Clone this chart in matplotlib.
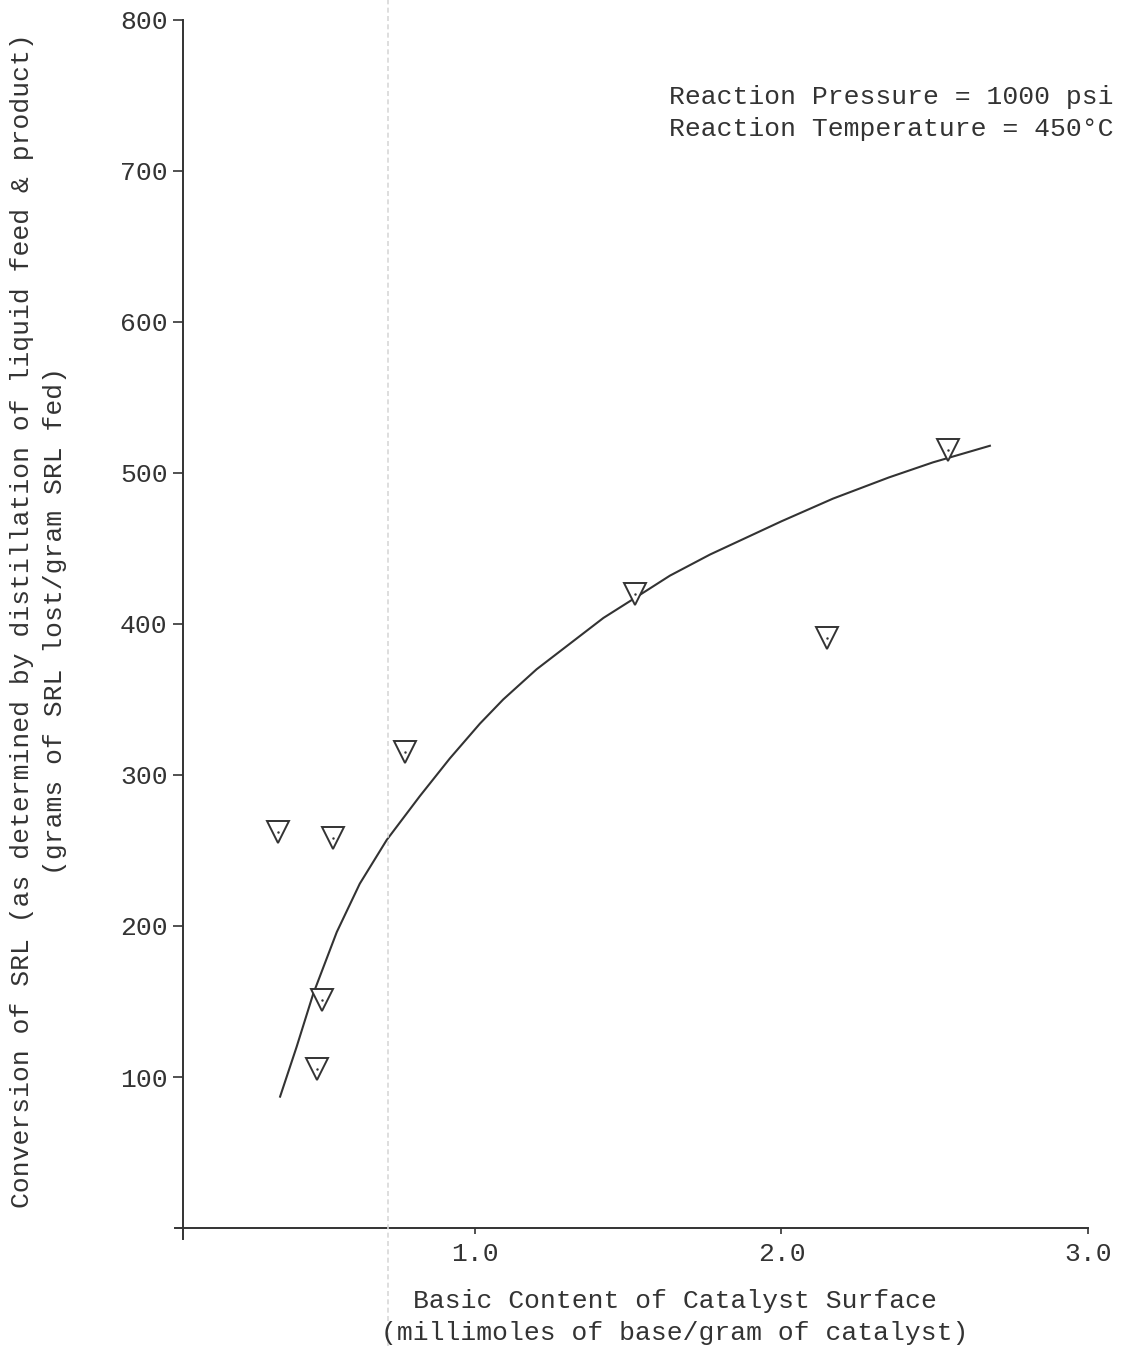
import matplotlib
matplotlib.use('Agg')
import matplotlib.pyplot as plt
from matplotlib.lines import Line2D

# measured points (basic content vs conversion)
basic_content = [0.357, 0.537, 0.772, 0.500, 0.484, 1.522, 2.148, 2.543]
conversion = [262, 258, 315, 151, 105, 420, 391, 515]

# hand-drawn fitted curve
curve_x = [0.364, 0.418, 0.472, 0.549, 0.624, 0.712, 0.820, 0.918, 1.016,
           1.092, 1.201, 1.310, 1.419, 1.528, 1.636, 1.767, 2.0, 2.168,
           2.35, 2.494, 2.68]
curve_y = [87, 120, 155, 196, 228, 257, 286, 311, 334,
           350, 370, 387, 404, 418, 432, 446, 468, 483,
           497, 507, 518]

y_ticks = [100, 200, 300, 400, 500, 600, 700, 800]
x_ticks = [1.0, 2.0, 3.0]

ink = '#333333'
plt.rcParams['font.family'] = ['Liberation Mono', 'DejaVu Sans Mono']
fs = 19
ls_txt = 1.45

fig = plt.figure(figsize=(11.23, 13.46), dpi=100)
ax = fig.add_axes([0.1558, 0.0798, 0.813, 0.9054])

ax.plot(curve_x, curve_y, color=ink, lw=1.5, solid_joinstyle='round')
ax.plot(basic_content, conversion, linestyle='none', marker='v', ms=16,
        mfc='white', mec=ink, mew=1.4)
ax.plot(basic_content, conversion, linestyle='none', marker='.', ms=1.5, color=ink)

ax.set_xlim(0.021, 3.0)
ax.set_ylim(-7, 800)

ax.spines['top'].set_visible(False)
ax.spines['right'].set_visible(False)
ax.spines['left'].set_position(('data', 0.047))
ax.spines['bottom'].set_position(('data', 0))
for s in ('left', 'bottom'):
    ax.spines[s].set_color(ink)
    ax.spines[s].set_linewidth(1.4)

ax.set_yticks(y_ticks)
ax.set_yticklabels([str(v) for v in y_ticks])
ax.set_xticks(x_ticks)
ax.set_xticklabels(['%.1f' % v for v in x_ticks])
ax.tick_params(axis='y', direction='out', length=7, width=1.2, colors=ink,
               labelsize=fs, pad=4)
ax.tick_params(axis='x', direction='out', length=4, width=1.2, colors=ink,
               labelsize=fs, pad=6)

# fold line from the scan
fig.add_artist(Line2D([388 / 1123, 388 / 1123], [0, 1], color='#d8d8d8',
                      lw=1.2, ls=(0, (3, 2))))

fig.text(0.0343, 0.539,
         'Conversion of SRL (as determined by distillation of liquid feed & product)\n'
         '(grams of SRL lost/gram SRL fed)',
         rotation=90, ha='center', va='center', multialignment='center',
         fontsize=fs, color=ink, linespacing=ls_txt)

fig.text(0.601, 0.0215,
         'Basic Content of Catalyst Surface\n(millimoles of base/gram of catalyst)',
         ha='center', va='center', multialignment='center',
         fontsize=fs, color=ink, linespacing=ls_txt)

fig.text(0.5957, 0.916,
         'Reaction Pressure = 1000 psi\nReaction Temperature = 450\u00b0C',
         ha='left', va='center', fontsize=fs, color=ink, linespacing=ls_txt)

fig.savefig('out.png', dpi=100, facecolor='white')
